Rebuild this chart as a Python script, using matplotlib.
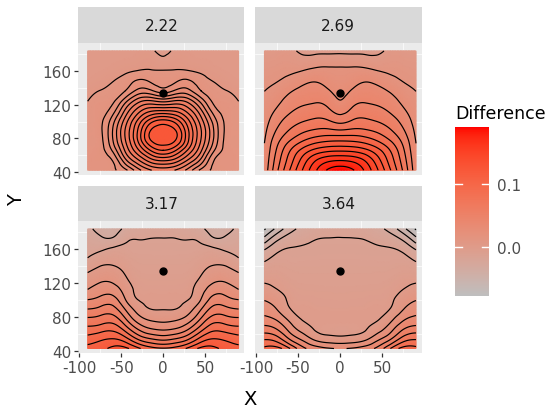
import numpy as np
import matplotlib
matplotlib.use('Agg')
import matplotlib.pyplot as plt
import matplotlib.tri as mtri
from matplotlib.colors import ListedColormap, Normalize
import matplotlib.cm as cm

plt.rcParams['axes.unicode_minus'] = False
plt.rcParams['font.family'] = ['DejaVu Sans']

# ---------------- data ----------------
facet_labels = ['2.22', '2.69', '3.17', '3.64']
x_coords = [-90, -75, -60, -45, -30, -15, 0, 15, 30, 45, 60, 75, 90]
# rows listed from top (y = 183.5) to bottom (y = 42.5)
y_coords = [183.5, 171.75, 160, 148.25, 136.5, 124.75, 113, 101.25, 89.5, 77.75, 66, 54.25, 42.5]
site_x = [0]
site_y = [134]
# Difference values in units of 0.0001, one list per row (top to bottom)
diff_222 = [
 [27, 27, 27, 27, 29, 20, -23, 20, 29, 27, 27, 27, 27],
 [27, 27, 29, 33, 44, 53, 24, 53, 44, 33, 29, 27, 27],
 [27, 30, 44, 70, 93, 97, 95, 97, 93, 70, 44, 30, 27],
 [31, 51, 86, 131, 189, 167, 140, 167, 189, 131, 86, 51, 31],
 [58, 92, 118, 180, 294, 285, 220, 285, 294, 180, 118, 92, 58],
 [88, 128, 160, 322, 496, 540, 501, 540, 496, 322, 160, 128, 88],
 [109, 145, 229, 469, 675, 790, 808, 790, 675, 469, 229, 145, 109],
 [118, 158, 322, 580, 825, 1027, 1097, 1027, 825, 580, 322, 158, 118],
 [126, 162, 366, 639, 909, 1170, 1224, 1170, 909, 639, 366, 162, 126],
 [126, 153, 357, 628, 907, 1166, 1212, 1166, 907, 628, 357, 153, 126],
 [126, 153, 288, 558, 792, 994, 1080, 994, 792, 558, 288, 153, 126],
 [126, 144, 188, 426, 616, 770, 824, 770, 616, 426, 188, 144, 126],
 [126, 144, 167, 245, 414, 532, 577, 532, 414, 245, 167, 144, 126]]
diff_269 = [
 [43, 45, 46, -39, -39, -39, -39, -39, -39, -39, 46, 45, 43],
 [69, 78, 88, 57, 72, 85, 91, 85, 72, 57, 88, 78, 69],
 [96, 111, 129, 150, 185, 184, 175, 184, 185, 150, 129, 111, 96],
 [122, 144, 194, 255, 289, 248, 217, 248, 289, 255, 194, 144, 122],
 [148, 200, 280, 339, 362, 316, 259, 316, 362, 339, 280, 200, 148],
 [177, 260, 355, 409, 431, 394, 302, 394, 431, 409, 355, 260, 177],
 [206, 323, 426, 489, 520, 486, 400, 486, 520, 489, 426, 323, 206],
 [234, 394, 513, 584, 624, 610, 546, 610, 624, 584, 513, 394, 234],
 [263, 466, 611, 712, 768, 784, 762, 784, 768, 712, 611, 466, 263],
 [292, 550, 742, 882, 978, 1024, 1034, 1024, 978, 882, 742, 550, 292],
 [313, 621, 886, 1092, 1238, 1309, 1325, 1309, 1238, 1092, 886, 621, 313],
 [332, 673, 971, 1249, 1481, 1608, 1642, 1608, 1481, 1249, 971, 673, 332],
 [350, 725, 1050, 1350, 1617, 1815, 1890, 1815, 1617, 1350, 1050, 725, 350]]
diff_317 = [
 [-269, -346, -361, -273, -225, -205, -198, -205, -225, -273, -361, -346, -269],
 [-228, -273, -281, -180, -154, -148, -147, -148, -154, -180, -281, -273, -228],
 [-188, -175, -130, -120, -127, -127, -127, -127, -127, -120, -130, -175, -188],
 [-143, -73, -49, -76, -103, -106, -107, -106, -103, -76, -49, -73, -143],
 [-40, 26, 31, -32, -79, -86, -86, -86, -79, -32, 31, 26, -40],
 [54, 114, 111, 17, -55, -65, -66, -65, -55, 17, 111, 114, 54],
 [142, 216, 214, 80, -31, -44, -46, -44, -31, 80, 214, 216, 142],
 [284, 334, 347, 143, -7, -23, -26, -23, -7, 143, 347, 334, 284],
 [443, 484, 498, 281, 80, -3, -6, -3, 80, 281, 498, 484, 443],
 [619, 649, 664, 455, 214, 118, 95, 118, 214, 455, 664, 649, 619],
 [791, 825, 850, 675, 429, 300, 267, 300, 429, 675, 850, 825, 791],
 [956, 1012, 1046, 944, 719, 594, 544, 594, 719, 944, 1046, 1012, 956],
 [1105, 1150, 1239, 1234, 1084, 956, 915, 956, 1084, 1234, 1239, 1150, 1105]]
diff_364 = [
 [-769, -553, -363, -261, -213, -192, -185, -192, -213, -261, -363, -553, -769],
 [-552, -337, -226, -182, -154, -147, -146, -147, -154, -182, -226, -337, -552],
 [-319, -185, -144, -139, -134, -131, -131, -131, -134, -139, -144, -185, -319],
 [-176, -121, -120, -120, -118, -116, -116, -116, -118, -120, -120, -121, -176],
 [-97, -82, -96, -101, -101, -100, -100, -100, -101, -101, -96, -82, -97],
 [-32, -42, -71, -83, -84, -85, -85, -85, -84, -83, -71, -42, -32],
 [45, -3, -47, -64, -67, -69, -70, -69, -67, -64, -47, -3, 45],
 [133, 67, -23, -45, -50, -53, -55, -53, -50, -45, -23, 67, 133],
 [229, 141, 4, -26, -34, -38, -40, -38, -34, -26, 4, 141, 229],
 [341, 268, 102, -8, -17, -22, -24, -22, -17, -8, 102, 268, 341],
 [506, 435, 240, 81, -10, -40, -45, -40, -10, 81, 240, 435, 506],
 [727, 659, 429, 258, 110, 55, 40, 55, 110, 258, 429, 659, 727],
 [939, 950, 758, 500, 379, 315, 294, 315, 379, 500, 758, 950, 939]]
value_unit = 1e-4
contour_steps = [0.009, 0.015, 0.015, 0.015]

# ---------------- colour scale (grey -> red, Lab interpolation like ggplot) ----------------
M = np.array([[0.4124, 0.3576, 0.1805], [0.2126, 0.7152, 0.0722], [0.0193, 0.1192, 0.9505]])
wp = np.array([0.95047, 1.0, 1.08883])
def to_lab(c):
    c = np.asarray(c, float)
    lin = np.where(c <= 0.04045, c / 12.92, ((c + 0.055) / 1.055) ** 2.4)
    t = (M @ lin) / wp
    f = np.where(t > (6 / 29) ** 3, np.cbrt(t), t / (3 * (6 / 29) ** 2) + 4 / 29)
    return np.array([116 * f[1] - 16, 500 * (f[0] - f[1]), 200 * (f[1] - f[2])])
def from_lab(lab):
    L, a, b = lab
    fy = (L + 16) / 116
    f = np.array([fy + a / 500, fy, fy - b / 200])
    t = np.where(f > 6 / 29, f ** 3, 3 * (6 / 29) ** 2 * (f - 4 / 29))
    lin = np.clip(np.linalg.inv(M) @ (t * wp), 0, 1)
    return np.clip(np.where(lin <= 0.0031308, 12.92 * lin, 1.055 * lin ** (1 / 2.4) - 0.055), 0, 1)
lo = to_lab([190 / 255] * 3)
hi = to_lab([1, 0, 0])
cmap = ListedColormap([from_lab(lo + (hi - lo) * t) for t in np.linspace(0, 1, 256)])

grids = [np.array(g, float) * value_unit for g in (diff_222, diff_269, diff_317, diff_364)]
norm = Normalize(min(g.min() for g in grids), max(g.max() for g in grids))

# ---------------- layout ----------------
fig = plt.figure(figsize=(5.56, 4.14), dpi=100)
FW, FH = 556, 414
def box(l, t, r, b):
    return [l / FW, 1 - b / FH, (r - l) / FW, (b - t) / FH]
panels = [(78.3, 44.3, 244.3, 175.7), (255, 44.3, 421.7, 175.7),
          (78.3, 222.3, 244.3, 354), (255, 222.3, 421.7, 354)]
strips = [(78.3, 8.3, 244.3, 44.3), (255, 8.3, 421.7, 44.3),
          (78.3, 187, 244.3, 222.3), (255, 187, 421.7, 222.3)]

X, Y = np.meshgrid(np.array(x_coords, float), np.array(y_coords, float))
tri = mtri.Triangulation(X.ravel(), Y.ravel())
refiner = mtri.UniformTriRefiner(tri)

for i in range(4):
    ax = fig.add_axes(box(*panels[i]))
    ax.set_facecolor('#EBEBEB')
    ax.set_xlim(-101.2, 96.8)
    ax.set_ylim(37.2, 192.5)
    ax.set_xticks([-100, -50, 0, 50])
    ax.set_yticks([40, 80, 120, 160])
    ax.set_xticks([-75, -25, 25, 75], minor=True)
    ax.set_yticks([60, 100, 140, 180], minor=True)
    ax.grid(True, which='major', color='white', lw=1.0)
    ax.grid(True, which='minor', color='white', lw=0.5)
    ax.set_axisbelow(True)
    for s in ax.spines.values():
        s.set_visible(False)
    ax.tick_params(which='minor', length=0)
    ax.tick_params(which='major', length=3.2, width=0.9, color='#333333',
                   labelcolor='#4D4D4D', labelsize=11, pad=2)
    if i % 2 == 1:
        ax.tick_params(axis='y', length=0, labelleft=False)
    if i < 2:
        ax.tick_params(axis='x', length=0, labelbottom=False)

    z = grids[i]
    tr, zr = refiner.refine_field(z.ravel(), subdiv=3)
    ax.tripcolor(tr, zr, shading='gouraud', cmap=cmap, norm=norm, zorder=2)
    st = contour_steps[i]
    lv = np.arange(np.ceil(z.min() / st - 1e-9), np.floor(z.max() / st + 1e-9) + 1) * st
    ax.tricontour(tr, zr, levels=lv, colors='black', linewidths=0.85,
                  negative_linestyles='solid', zorder=3)
    ax.plot(site_x, site_y, 'o', color='black', ms=5, zorder=4)

    sa = fig.add_axes(box(*strips[i]))
    sa.set_facecolor('#D9D9D9')
    sa.set_xticks([])
    sa.set_yticks([])
    for s in sa.spines.values():
        s.set_visible(False)
    sa.text(0.5, 0.5, facet_labels[i], ha='center', va='center', fontsize=11,
            color='#1A1A1A', transform=sa.transAxes)

fig.text(250.5 / FW, 1 - 400 / FH, 'X', ha='center', va='center', fontsize=14)
fig.text(17 / FW, 1 - 200 / FH, 'Y', ha='center', va='center', fontsize=14, rotation=90)
fig.text(455 / FW, 1 - 114 / FH, 'Difference', ha='left', va='center', fontsize=12.5)

cax = fig.add_axes(box(455, 128, 489, 297))
cb = fig.colorbar(cm.ScalarMappable(norm=norm, cmap=cmap), cax=cax)
cb.outline.set_visible(False)
cb.set_ticks([0.0, 0.1])
cb.set_ticklabels(['0.0', '0.1'])
cax.tick_params(length=0, labelsize=11, labelcolor='#4D4D4D', pad=6)
for v in [0.0, 0.1]:
    cax.plot([0, 0.2], [v, v], color='white', lw=1, transform=cax.get_yaxis_transform())
    cax.plot([0.8, 1], [v, v], color='white', lw=1, transform=cax.get_yaxis_transform())

fig.savefig('out.png', dpi=100)
